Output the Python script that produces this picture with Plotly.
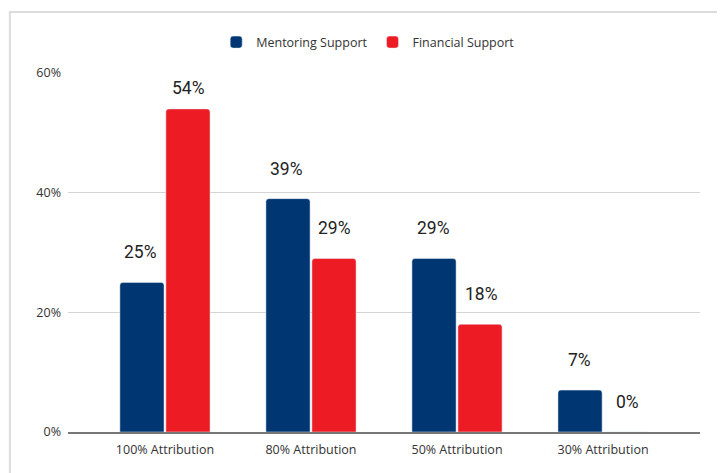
import plotly.graph_objects as go

categories = ["100% Attribution", "80% Attribution", "50% Attribution", "30% Attribution"]
mentoring = [25, 39, 29, 7]
financial = [54, 29, 18, 0]
series_names = ["Mentoring Support", "Financial Support"]
tick_vals = [0, 20, 40, 60]
tick_text = ["0%", "20%", "40%", "60%"]

navy = "#003671"
red = "#ED1C24"

fig = go.Figure()
fig.add_trace(go.Bar(x=categories, y=mentoring, name=series_names[0], marker_color=navy,
                     marker_cornerradius=3, hoverinfo="skip"))
fig.add_trace(go.Bar(x=categories, y=financial, name=series_names[1], marker_color=red,
                     marker_cornerradius=3, hoverinfo="skip"))

annos = []
for i, c in enumerate(categories):
    for vals, xs in ((mentoring, -24), (financial, 24)):
        v = vals[i]
        ys = 30 if v < 50 else 21
        annos.append(dict(x=c, y=v, xref="x", yref="y", text=f"{v}%", showarrow=False,
                          xshift=xs, yshift=ys, font=dict(family="Roboto", size=17.5, color="#222")))

fig.update_layout(
    width=717, height=465,
    margin=dict(l=60, r=25, t=65, b=41, autoexpand=False),
    paper_bgcolor="white", plot_bgcolor="white",
    barmode="group", bargap=0.37, bargroupgap=0.04,
    font=dict(family="Open Sans", size=12, color="#444"),
    legend=dict(orientation="h", x=0.475, xanchor="center", y=1.085, yanchor="middle",
                font=dict(family="Open Sans", size=12.5, color="#333"), itemwidth=30,
                traceorder="normal"),
    xaxis=dict(range=[-0.664, 3.664], showgrid=False, showline=True, linecolor="#777",
               linewidth=1.5, ticks="", ticklabelstandoff=5, tickfont=dict(size=12.5, color="#333")),
    yaxis=dict(range=[0, 60], tickvals=tick_vals, ticktext=tick_text, showgrid=True,
               gridcolor="#d4d4d4", gridwidth=1.2, zeroline=False, showline=False,
               ticklabelstandoff=6, tickfont=dict(size=12.5, color="#333")),
    annotations=annos,
    shapes=[dict(type="rect", xref="paper", yref="paper", x0=-0.092, x1=1.035, y0=-0.2, y1=1.17,
                 line=dict(color="#dcdcdc", width=2), fillcolor="rgba(0,0,0,0)", layer="below")],
)
fig.write_html("out.html")
